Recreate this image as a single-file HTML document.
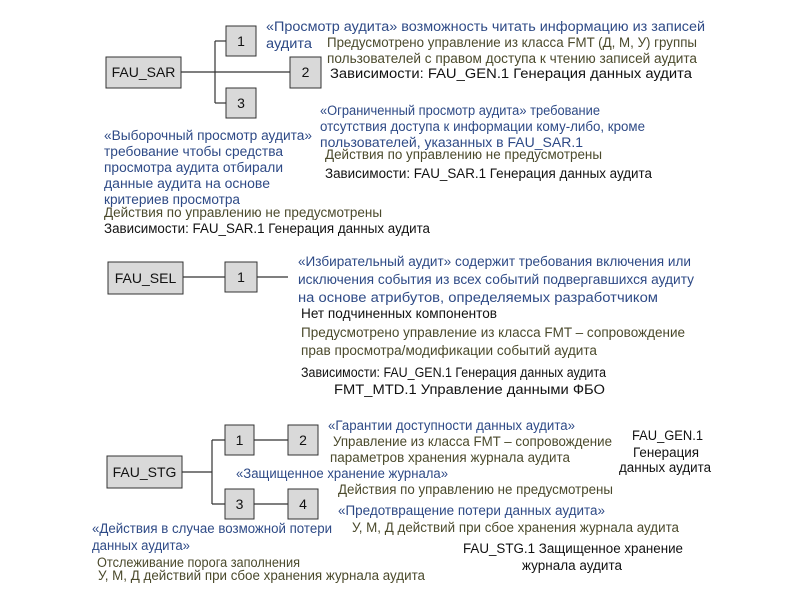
<!DOCTYPE html>
<html><head><meta charset="utf-8"><style>
html,body{margin:0;padding:0;background:#fff;}
svg{display:block;font-family:"Liberation Sans",Arial,sans-serif;font-size:13.5px;}
.b{fill:#2e4a86}.o{fill:#4b4a2c}.k{fill:#111}
rect{fill:#d9d9d9;stroke:#333;stroke-width:1}
line{stroke:#333;stroke-width:1.2}
.n{font-size:14px;fill:#111;text-anchor:middle}
</style></head><body>
<svg width="800" height="600" viewBox="0 0 800 600" xmlns="http://www.w3.org/2000/svg">
<!-- FAU_SAR -->
<line x1="181" y1="72" x2="290" y2="72"/>
<line x1="215" y1="41" x2="215" y2="103"/>
<line x1="215" y1="41" x2="226" y2="41"/>
<line x1="215" y1="103" x2="226" y2="103"/>
<rect x="106" y="57" width="75" height="31"/>
<text class="n" x="143.5" y="77">FAU_SAR</text>
<rect x="226" y="26" width="30" height="30"/><text class="n" x="241" y="46">1</text>
<rect x="290" y="57" width="31" height="31"/><text class="n" x="305.5" y="77">2</text>
<rect x="226" y="88" width="30" height="30"/><text class="n" x="241" y="108">3</text>

<text class="b" x="266" y="31" textLength="439" lengthAdjust="spacingAndGlyphs">«Просмотр аудита» возможность читать информацию из записей</text>
<text class="b" x="266" y="48" textLength="46" lengthAdjust="spacingAndGlyphs">аудита</text>
<text class="o" x="327" y="47" textLength="370" lengthAdjust="spacingAndGlyphs">Предусмотрено управление из класса FMT (Д, М, У) группы</text>
<text class="o" x="327" y="63" textLength="370" lengthAdjust="spacingAndGlyphs">пользователей с правом доступа к чтению записей аудита</text>
<text class="k" x="330" y="78" textLength="362" lengthAdjust="spacingAndGlyphs">Зависимости: FAU_GEN.1 Генерация данных аудита</text>
<text class="b" x="320" y="115" textLength="280" lengthAdjust="spacingAndGlyphs">«Ограниченный просмотр аудита» требование</text>
<text class="b" x="320" y="131" textLength="325" lengthAdjust="spacingAndGlyphs">отсутствия доступа к информации кому-либо, кроме</text>
<text class="b" x="320" y="147" textLength="263" lengthAdjust="spacingAndGlyphs">пользователей, указанных в FAU_SAR.1</text>
<text class="o" x="325" y="159" textLength="277" lengthAdjust="spacingAndGlyphs">Действия по управлению не предусмотрены</text>
<text class="k" x="325" y="178" textLength="327" lengthAdjust="spacingAndGlyphs">Зависимости: FAU_SAR.1 Генерация данных аудита</text>
<text class="b" x="104" y="140" textLength="208" lengthAdjust="spacingAndGlyphs">«Выборочный просмотр аудита»</text>
<text class="b" x="104" y="156" textLength="179" lengthAdjust="spacingAndGlyphs">требование чтобы средства</text>
<text class="b" x="104" y="172" textLength="179" lengthAdjust="spacingAndGlyphs">просмотра аудита отбирали</text>
<text class="b" x="104" y="188" textLength="166" lengthAdjust="spacingAndGlyphs">данные аудита на основе</text>
<text class="b" x="104" y="204" textLength="136" lengthAdjust="spacingAndGlyphs">критериев просмотра</text>
<text class="o" x="104" y="217" textLength="278" lengthAdjust="spacingAndGlyphs">Действия по управлению не предусмотрены</text>
<text class="k" x="104" y="233" textLength="326" lengthAdjust="spacingAndGlyphs">Зависимости: FAU_SAR.1 Генерация данных аудита</text>

<!-- FAU_SEL -->
<line x1="183" y1="277" x2="288" y2="277"/>
<rect x="108" y="262" width="75" height="32"/><text class="n" x="145.5" y="283">FAU_SEL</text>
<rect x="225" y="262" width="32" height="30"/><text class="n" x="241" y="282">1</text>
<text class="b" x="298" y="266" textLength="393" lengthAdjust="spacingAndGlyphs">«Избирательный аудит» содержит требования включения или</text>
<text class="b" x="298" y="284" textLength="396" lengthAdjust="spacingAndGlyphs">исключения события из всех событий подвергавшихся аудиту</text>
<text class="b" x="298" y="302" textLength="360" lengthAdjust="spacingAndGlyphs">на основе атрибутов, определяемых разработчиком</text>
<text class="k" x="301" y="318" textLength="196" lengthAdjust="spacingAndGlyphs">Нет подчиненных компонентов</text>
<text class="o" x="301" y="337" textLength="384" lengthAdjust="spacingAndGlyphs">Предусмотрено управление из класса FMT – сопровождение</text>
<text class="o" x="301" y="355" textLength="296" lengthAdjust="spacingAndGlyphs">прав просмотра/модификации событий аудита</text>
<text class="k" x="301" y="377" textLength="305" lengthAdjust="spacingAndGlyphs">Зависимости: FAU_GEN.1 Генерация данных аудита</text>
<text class="k" x="334" y="394" textLength="271" lengthAdjust="spacingAndGlyphs">FMT_MTD.1 Управление данными ФБО</text>

<!-- FAU_STG -->
<line x1="182" y1="472" x2="212" y2="472"/>
<line x1="212" y1="440" x2="212" y2="504"/>
<line x1="212" y1="440" x2="288" y2="440"/>
<line x1="212" y1="504" x2="288" y2="504"/>
<rect x="107" y="456" width="75" height="32"/><text class="n" x="144.5" y="477">FAU_STG</text>
<rect x="225" y="425" width="29" height="30"/><text class="n" x="239.5" y="445">1</text>
<rect x="288" y="425" width="30" height="30"/><text class="n" x="303" y="445">2</text>
<rect x="225" y="489" width="29" height="30"/><text class="n" x="239.5" y="509">3</text>
<rect x="288" y="489" width="30" height="30"/><text class="n" x="303" y="509">4</text>
<text class="b" x="328" y="430" textLength="247" lengthAdjust="spacingAndGlyphs">«Гарантии доступности данных аудита»</text>
<text class="o" x="333" y="446" textLength="279" lengthAdjust="spacingAndGlyphs">Управление из класса FMT – сопровождение</text>
<text class="o" x="330" y="462" textLength="240" lengthAdjust="spacingAndGlyphs">параметров хранения журнала аудита</text>
<text class="b" x="236" y="478" textLength="212" lengthAdjust="spacingAndGlyphs">«Защищенное хранение журнала»</text>
<text class="o" x="338" y="494" textLength="275" lengthAdjust="spacingAndGlyphs">Действия по управлению не предусмотрены</text>
<text class="b" x="338" y="515" textLength="267" lengthAdjust="spacingAndGlyphs">«Предотвращение потери данных аудита»</text>
<text class="o" x="352" y="532" textLength="327" lengthAdjust="spacingAndGlyphs">У, М, Д действий при сбое хранения журнала аудита</text>
<text class="b" x="92" y="533" textLength="240" lengthAdjust="spacingAndGlyphs">«Действия в случае возможной потери</text>
<text class="b" x="92" y="550" textLength="98" lengthAdjust="spacingAndGlyphs">данных аудита»</text>
<text class="o" x="97" y="567" textLength="203" lengthAdjust="spacingAndGlyphs">Отслеживание порога заполнения</text>
<text class="o" x="98" y="580" textLength="327" lengthAdjust="spacingAndGlyphs">У, М, Д действий при сбое хранения журнала аудита</text>
<text class="k" x="632" y="440" textLength="71" lengthAdjust="spacingAndGlyphs">FAU_GEN.1</text>
<text class="k" x="633" y="457" textLength="66" lengthAdjust="spacingAndGlyphs">Генерация</text>
<text class="k" x="619" y="472" textLength="92" lengthAdjust="spacingAndGlyphs">данных аудита</text>
<text class="k" x="463" y="553" textLength="220" lengthAdjust="spacingAndGlyphs">FAU_STG.1 Защищенное хранение</text>
<text class="k" x="522" y="570" textLength="100" lengthAdjust="spacingAndGlyphs">журнала аудита</text>
</svg>
</body></html>
